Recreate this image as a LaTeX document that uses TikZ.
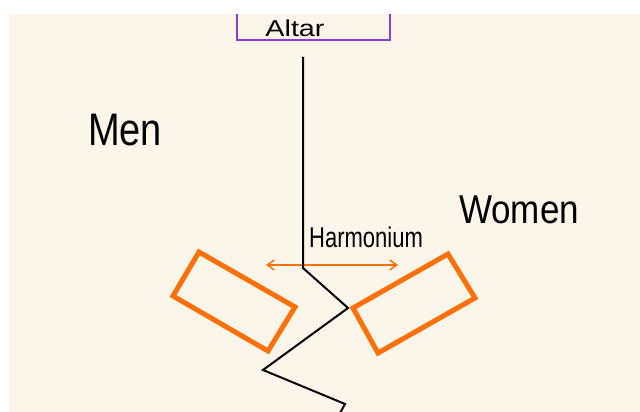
\documentclass[tikz,border=0pt]{standalone}
\usepackage{fontspec}
\setmainfont{Liberation Sans}
\usetikzlibrary{arrows.meta}
\definecolor{paper}{HTML}{FCF5EA}
\definecolor{peworange}{HTML}{FF7008}
\definecolor{altarpurple}{HTML}{8C3EDC}
\begin{document}
\begin{tikzpicture}[x=1pt,y=-1pt,
  label/.style={inner sep=0pt,text=black},
  pew/.style={draw=peworange,line width=5pt,line join=miter},
  aisle/.style={draw=black,line width=2pt,line join=miter}]
\useasboundingbox (0,0) rectangle (640,412);
% paper sheet
\fill[paper] (9,14) rectangle (640,412);

% altar bracket
\coordinate (altarL) at (237,14);
\coordinate (altarR) at (390,14);
\draw[altarpurple,line width=2pt] (altarL) -- (237,40) -- (390,40) -- (altarR);
\node[label,font=\fontsize{23}{23}\selectfont,xscale=1.25] (altar) at (295,28) {Altar};

% section labels
\node[label,font=\fontsize{38}{38}\selectfont,yscale=1.2] (men) at (125,130) {Men};
\node[label,font=\fontsize{35}{35}\selectfont,yscale=1.15] (women) at (519,210) {Women};
\node[label,font=\fontsize{22}{22}\selectfont,yscale=1.3] (harm) at (366,237) {Harmonium};

% pews
\draw[pew] (199,252) -- (295,307) -- (268,351) -- (173,296) -- cycle;
\draw[pew] (448,254) -- (475,298) -- (378,353) -- (353,308) -- cycle;

% harmonium reach
\coordinate (hl) at (266,265);
\coordinate (hr) at (398,265);
\draw[peworange,line width=1.5pt,{Straight Barb[length=7pt,width=10pt]}-{Straight Barb[length=7pt,width=10pt]}] (hl) -- (hr);

% aisle path
\coordinate (a0) at (303,57);
\coordinate (a1) at (303,268);
\coordinate (a2) at (348,308);
\coordinate (a3) at (263,370);
\coordinate (a4) at (345,404);
\coordinate (a5) at (340,413);
\draw[aisle] (a0) -- (a1) -- (a2) -- (a3) -- (a4) -- (a5);
\end{tikzpicture}
\end{document}
